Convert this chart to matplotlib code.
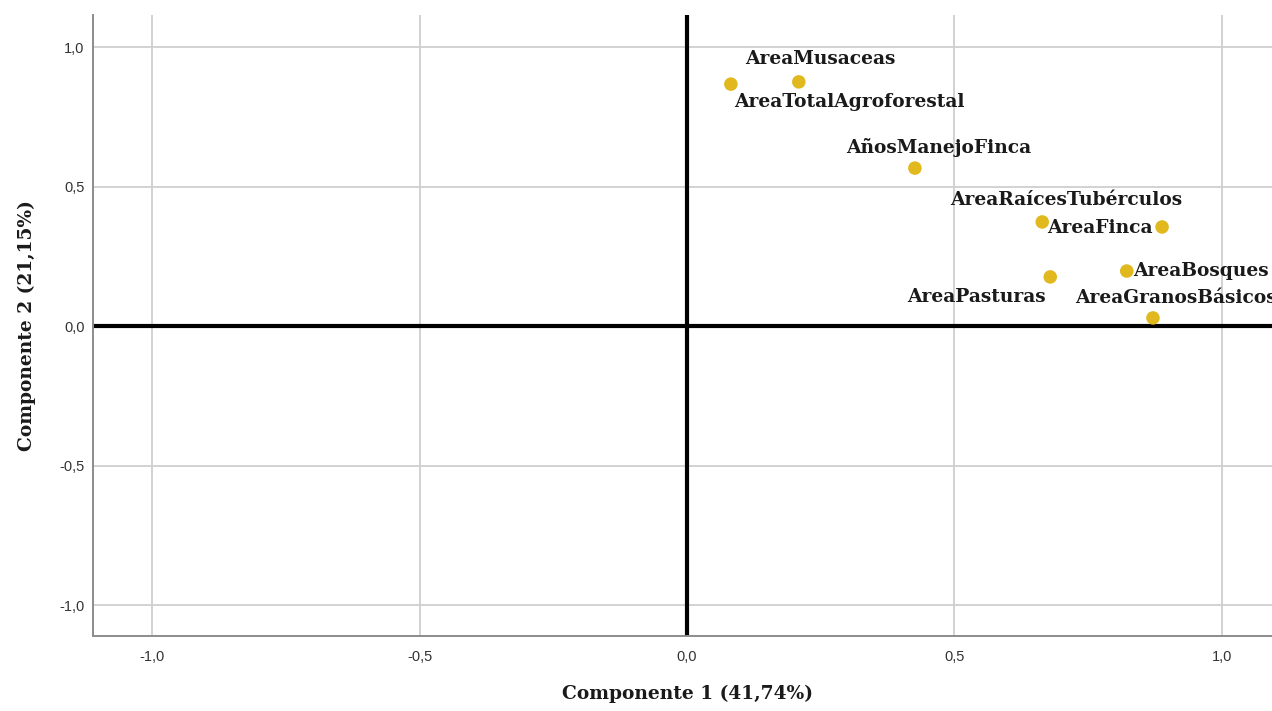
import matplotlib
matplotlib.use("Agg")
import matplotlib.pyplot as plt

# Component loadings for each variable
variables = ["AreaTotalAgroforestal", "AreaMusaceas", "AñosManejoFinca",
             "AreaRaícesTubérculos", "AreaFinca", "AreaPasturas",
             "AreaBosques", "AreaGranosBásicos"]
comp1 = [0.082, 0.209, 0.426, 0.664, 0.888, 0.679, 0.822, 0.871]
comp2 = [0.867, 0.875, 0.566, 0.373, 0.355, 0.176, 0.197, 0.029]

tick_values = [-1.0, -0.5, 0.0, 0.5, 1.0]
tick_labels = ["-1,0", "-0,5", "0,0", "0,5", "1,0"]

# label placement (pixel offsets from each point, horizontal alignment)
label_offsets = {
    "AreaTotalAgroforestal": (3, -18, "left"),
    "AreaMusaceas": (-54, 23, "left"),
    "AñosManejoFinca": (-69, 21, "left"),
    "AreaRaícesTubérculos": (-92, 22, "left"),
    "AreaFinca": (-9, -1, "right"),
    "AreaPasturas": (-4, -20, "right"),
    "AreaBosques": (6, 0, "left"),
    "AreaGranosBásicos": (-78, 20, "left"),
}

serif = ["DejaVu Serif"]
sans = ["Liberation Sans", "DejaVu Sans"]

fig = plt.figure(figsize=(12.72, 7.11), dpi=100)
ax = fig.add_axes([93 / 1272, 75 / 711, 1 - 93 / 1272, (636 - 15) / 711])
ax.set_xlim(-1.1103, 1.0935)
ax.set_ylim(-1.111, 1.1147)

ax.grid(True, color="#cfcfcf", linewidth=1.3)
ax.set_axisbelow(True)
ax.axhline(0, color="black", linewidth=3.0, zorder=2)
ax.axvline(0, color="black", linewidth=3.0, zorder=2)

ax.scatter(comp1, comp2, s=95, color="#e1b91f", edgecolors="none", zorder=3)

for name, x, y in zip(variables, comp1, comp2):
    dx, dy, ha = label_offsets[name]
    ax.annotate(name, (x, y), xytext=(dx, dy), textcoords="offset pixels",
                ha=ha, va="center", fontsize=13.4, fontweight="bold",
                family=serif, color="#1a1a1a", zorder=4, annotation_clip=False)

ax.set_xticks(tick_values)
ax.set_xticklabels(tick_labels)
ax.set_yticks(tick_values)
ax.set_yticklabels(tick_labels)
ax.tick_params(axis="both", length=0, labelsize=10.5, labelcolor="#333333")
ax.tick_params(axis="x", pad=10)
ax.tick_params(axis="y", pad=6)
for lbl in ax.get_xticklabels() + ax.get_yticklabels():
    lbl.set_family(sans)

for side in ("top", "right"):
    ax.spines[side].set_visible(False)
for side in ("left", "bottom"):
    ax.spines[side].set_color("#8c8c8c")
    ax.spines[side].set_linewidth(1.4)

ax.set_xlabel("Componente 1 (41,74%)", fontsize=13.4, fontweight="bold",
              family=serif, color="#1a1a1a")
ax.xaxis.set_label_coords(0.504, -0.079)
ax.set_ylabel("Componente 2 (21,15%)", fontsize=13.4, fontweight="bold",
              family=serif, color="#1a1a1a", labelpad=17)

fig.savefig("out.png", dpi=100)
